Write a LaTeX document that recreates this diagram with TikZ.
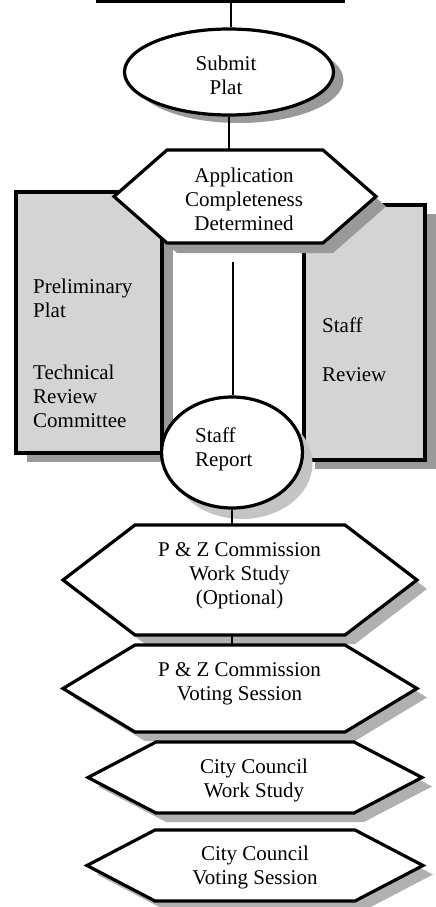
\documentclass[tikz,border=0pt]{standalone}
\usepackage{fontspec}
\setmainfont{Liberation Serif}
\usetikzlibrary{shapes.geometric,shadows}
\pgfdeclarelayer{bg}
\pgfsetlayers{bg,main}
\definecolor{boxgray}{HTML}{D4D4D4}
\definecolor{shadowdark}{HTML}{999999}
\definecolor{shadowmid}{HTML}{B0B0B0}
\definecolor{shadowlight}{HTML}{C4C4C4}

% hexagon around a sized node: #1 node, #2 point depth, #3/#4 offset
\newcommand\hexoutline[4]{([shift={(#3,#4)}]#1.north west) -- ([shift={(#3,#4)}]#1.north east) -- ([shift={(#2+#3,#4)}]#1.east) -- ([shift={(#3,#4)}]#1.south east) -- ([shift={(#3,#4)}]#1.south west) -- ([shift={(-#2+#3,#4)}]#1.west) -- cycle}

\begin{document}
\begin{tikzpicture}[x=1pt, y=-1pt,
  outline/.style={line width=3.2pt, draw=black, line join=miter},
  link/.style={line width=1.9pt},
  txt/.style={inner sep=0pt, font=\fontsize{21}{24}\selectfont, align=center},
  holder/.style={inner sep=0pt, outer sep=0pt, draw=none}]
\useasboundingbox (0,0) rectangle (436,907);

\begin{pgfonlayer}{bg}
  % side panels
  \node[rectangle, outline, fill=boxgray, inner sep=0pt, minimum width=146, minimum height=261,
        general shadow={fill=shadowdark, shadow xshift=11pt, shadow yshift=-9pt}] (tac) at (89,322.5) {};
  \node[rectangle, outline, fill=boxgray, inner sep=0pt, minimum width=121, minimum height=255,
        general shadow={fill=shadowdark, shadow xshift=11pt, shadow yshift=-9pt}] (staffrev) at (364.5,332.5) {};

  % submit plat
  \node[ellipse, outline, fill=white, inner sep=0pt, minimum width=209, minimum height=86,
        general shadow={fill=shadowdark, shadow xshift=10pt, shadow yshift=-8pt}] (submit) at (229,72) {};

  % completeness check
  \node[holder, minimum width=156, minimum height=93] (app) at (245,196.5) {};
  \fill[shadowdark] \hexoutline{app}{53}{10}{10};
  \draw[outline, fill=white] \hexoutline{app}{53}{0}{0};

  % staff report
  \node[ellipse, outline, fill=white, inner sep=0pt, minimum width=141, minimum height=111,
        general shadow={fill=shadowlight, shadow xshift=10pt, shadow yshift=-11pt}] (staff) at (232,452.5) {};

  % commission and council steps
  \node[holder, minimum width=210, minimum height=110] (pzws) at (240,580) {};
  \fill[shadowmid] \hexoutline{pzws}{72}{10}{9};
  \draw[outline, fill=white] \hexoutline{pzws}{72}{0}{0};

  \node[holder, minimum width=210, minimum height=87] (pzvs) at (240,688.5) {};
  \fill[shadowmid] \hexoutline{pzvs}{72}{10}{9};
  \draw[outline, fill=white] \hexoutline{pzvs}{72}{0}{0};

  \node[holder, minimum width=198, minimum height=71] (ccws) at (255,777.5) {};
  \fill[shadowmid] \hexoutline{ccws}{68}{10}{9};
  \draw[outline, fill=white] \hexoutline{ccws}{68}{0}{0};

  \node[holder, minimum width=200, minimum height=71] (ccvs) at (255,865.5) {};
  \fill[shadowmid] \hexoutline{ccvs}{68}{10}{9};
  \draw[outline, fill=white] \hexoutline{ccvs}{68}{0}{0};
\end{pgfonlayer}

% labels
\node[txt] (submittxt) at (226,75) {Submit\\Plat};
\node[txt] (apptxt) at (244,199) {Application\\Completeness\\Determined};
\node[txt, anchor=west, align=left] (tactxt) at (33,353) {Preliminary\\Plat\\[38pt]Technical\\Review\\Committee};
\node[txt, anchor=west, align=left] (staffrevtxt) at (322,350) {Staff\\[25pt]Review};
\node[txt, anchor=west, align=left] (stafftxt) at (195,449) {Staff\\Report};
\node[txt] (pzwstxt) at (239.5,576) {P \& Z Commission\\Work Study\\(Optional)};
\node[txt] (pzvstxt) at (239.5,683.6) {P \& Z Commission\\Voting Session};
\node[txt] (ccwstxt) at (254,780) {City Council\\Work Study};
\node[txt] (ccvstxt) at (255,867) {City Council\\Voting Session};

% connectors
\coordinate (barL) at (96,1.5);
\coordinate (barR) at (345,1.5);
\draw[line width=3pt] (barL) -- (barR);
\coordinate (bartap) at (231,3);
\draw[link] (bartap) -- (bartap |- submit.north);
\draw[link] (submit.south) -- (submit.south |- app.north);
\coordinate (midtop) at (233,262);
\draw[link] (midtop) -- (midtop |- staff.north);
\draw[link] (staff.south) -- (staff.south |- pzws.north);
\draw[link] (staff.south |- pzws.south) -- (staff.south |- pzvs.north);
\end{tikzpicture}
\end{document}
